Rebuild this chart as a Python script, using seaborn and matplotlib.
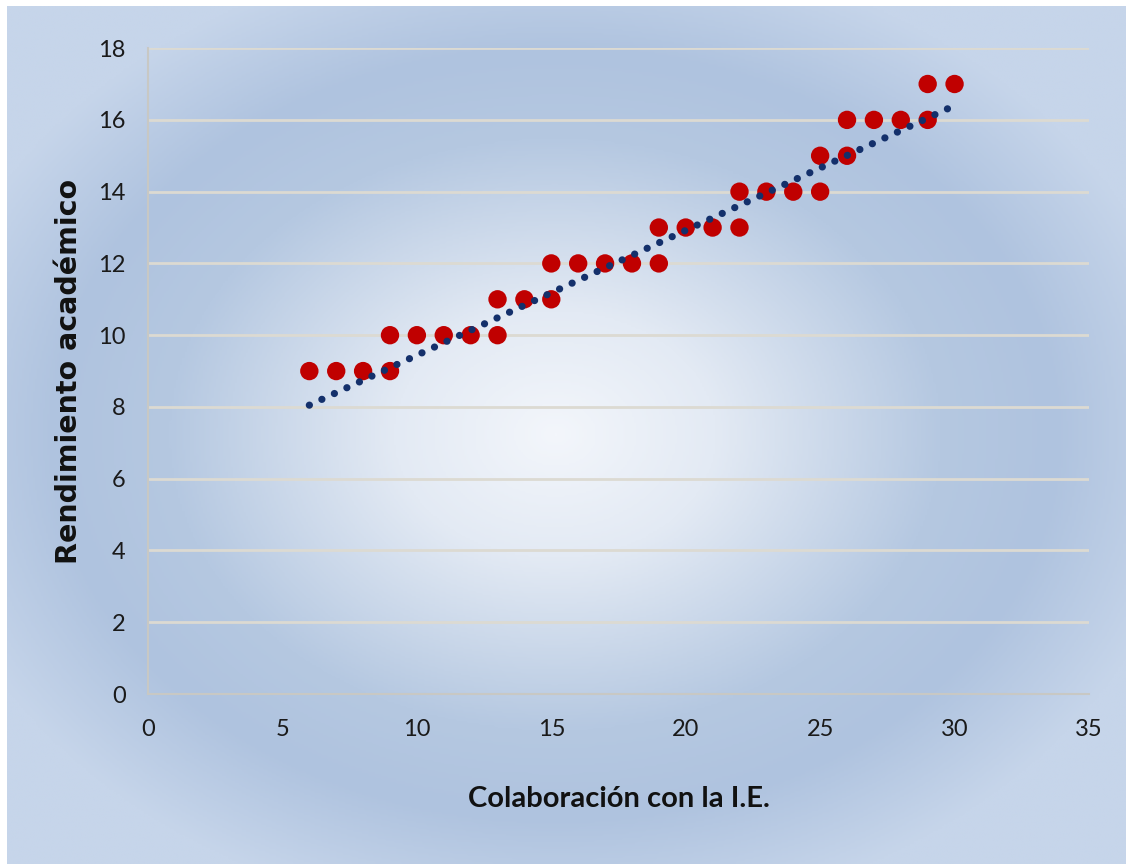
import numpy as np
import pandas as pd
import seaborn as sns
import matplotlib.pyplot as plt
from matplotlib.colors import LinearSegmentedColormap

# data
colaboracion = [6, 7, 8, 9, 9, 10, 11, 12, 13, 13, 14, 15, 15, 16, 17, 18, 19,
                19, 20, 21, 22, 22, 23, 24, 25, 25, 26, 26, 27, 28, 29, 29, 30]
rendimiento = [9, 9, 9, 9, 10, 10, 10, 10, 10, 11, 11, 11, 12, 12, 12, 12, 12,
               13, 13, 13, 13, 14, 14, 14, 14, 15, 15, 16, 16, 16, 16, 17, 17]
# linear trendline as drawn in the chart (end points)
trend_x = [6, 30]
trend_y = [8.05, 16.4]
x_ticks = [0, 5, 10, 15, 20, 25, 30, 35]
y_ticks = [0, 2, 4, 6, 8, 10, 12, 14, 16, 18]

df = pd.DataFrame({"x": colaboracion, "y": rendimiento})
df_trend = pd.DataFrame({"x": trend_x, "y": trend_y})

sns.set_style("white")
plt.rcParams['font.family'] = ['Lato', 'DejaVu Sans']

fig = plt.figure(figsize=(11.3, 8.67), dpi=100, facecolor="white")

# radial gradient background
bg = fig.add_axes([0.006, 0.003, 0.99, 0.99])
bg.set_axis_off()
h, w = 400, 520
yy, xx = np.mgrid[0:h, 0:w]
dx = (xx / (w - 1) - 0.49) / 0.5
dy = (yy / (h - 1) - 0.5) / 0.5
d = np.clip(np.sqrt(dx ** 2 + dy ** 2) / 1.15, 0, 1)
cmap = LinearSegmentedColormap.from_list(
    "bg", [(0.0, "#f3f6fb"), (0.25, "#e3eaf4"), (0.6, "#b5c8e1"),
           (0.78, "#afc3df"), (1.0, "#c6d5ea")])
bg.imshow(d, cmap=cmap, aspect="auto", extent=[0, 1, 0, 1], vmin=0, vmax=1)
bg.set_xlim(0, 1)
bg.set_ylim(0, 1)

ax = fig.add_axes([0.131, 0.1995, 0.8327, 0.745])
ax.patch.set_alpha(0)

sns.scatterplot(data=df, x="x", y="y", ax=ax, s=175, color="#c00000",
                edgecolor="none", zorder=3)
sns.lineplot(data=df_trend, x="x", y="y", ax=ax, color="#14306b", lw=5.2,
             linestyle=(0, (0.01, 1.9)), dash_capstyle="round", zorder=4)

ax.set_xlim(0, 35)
ax.set_ylim(0, 18)
ax.set_xticks(x_ticks)
ax.set_yticks(y_ticks)
ax.yaxis.grid(True, color="#dcdad2", lw=2)
ax.set_axisbelow(True)
for side in ["top", "right"]:
    ax.spines[side].set_visible(False)
for side in ["left", "bottom"]:
    ax.spines[side].set_color("#c8c8c4")
    ax.spines[side].set_linewidth(1.5)
ax.tick_params(axis="both", direction="out", length=6, width=1.5,
               color="#c8c8c4", labelsize=17, labelcolor="#1a1a1a", pad=10)
ax.tick_params(axis="x", pad=12)

ax.set_xlabel("Colaboración con la I.E.", fontsize=21, fontweight="bold",
              labelpad=33, color="#111111")
ax.set_ylabel("Rendimiento académico", fontsize=20.5, fontweight="bold",
              fontfamily="DejaVu Sans", labelpad=11, color="#111111")

fig.savefig("out.png", dpi=100, facecolor=fig.get_facecolor())
